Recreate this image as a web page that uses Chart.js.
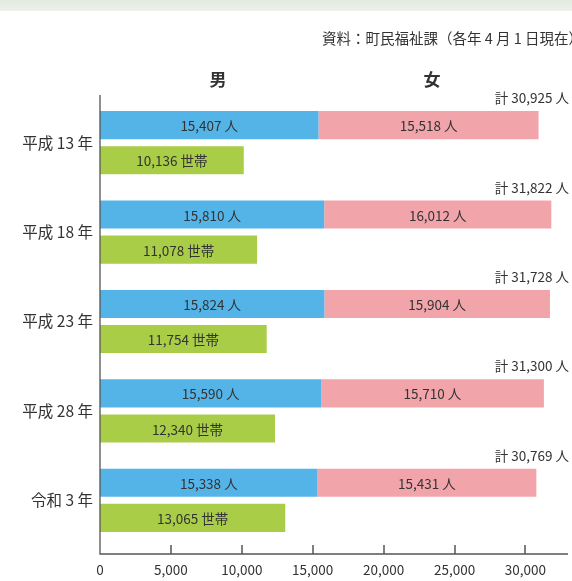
<!DOCTYPE html>
<html lang="ja">
<head>
<meta charset="utf-8">
<script src="https://cdn.jsdelivr.net/npm/chart.js@4.4.1/dist/chart.umd.min.js"></script>
<style>
  html, body { margin: 0; padding: 0; background: #fff; }
  body { width: 572px; height: 581px; overflow: hidden; position: relative; }
  .band { position: absolute; left: 0; top: 0; width: 572px; height: 11px; background: linear-gradient(#e3eae0, #edf1ea); }
  #wrap { position: absolute; left: 0; top: 0; width: 572px; height: 581px; }
</style>
</head>
<body>
<div class="band"></div>
<div id="wrap"><canvas id="c"></canvas></div>
<script>
  const years = ['平成 13 年', '平成 18 年', '平成 23 年', '平成 28 年', '令和 3 年'];
  const male = [15407, 15810, 15824, 15590, 15338];
  const female = [15518, 16012, 15904, 15710, 15431];
  const households = [10136, 11078, 11754, 12340, 13065];
  const totals = [30925, 31822, 31728, 31300, 30769];
  const xTicks = [0, 5000, 10000, 15000, 20000, 25000, 30000];
  const sourceNote = '資料：町民福祉課（各年 4 月 1 日現在）';

  const FONT = "'Noto Sans CJK JP', 'Noto Sans', sans-serif";
  const TEXT = '#333';
  const fmt = (v) => v.toLocaleString('en-US');

  // bar value texts, totals, hand-drawn axis lines and the captions
  const decorations = {
    id: 'decorations',
    afterDatasetsDraw(chart) {
      const ctx = chart.ctx;
      ctx.save();
      ctx.fillStyle = TEXT;
      ctx.textBaseline = 'middle';
      ctx.textAlign = 'center';
      ctx.font = `13.5px ${FONT}`;
      chart.data.datasets.forEach((ds, di) => {
        const meta = chart.getDatasetMeta(di);
        meta.data.forEach((bar, i) => {
          const cx = (bar.x + bar.base) / 2;
          ctx.fillText(fmt(ds.data[i]) + ' ' + ds.unit, cx, bar.y + 1);
        });
      });
      const fMeta = chart.getDatasetMeta(1);
      ctx.textAlign = 'right';
      ctx.font = `13.5px ${FONT}`;
      fMeta.data.forEach((bar, i) => {
        const top = bar.y - bar.height / 2;
        ctx.fillText('計 ' + fmt(totals[i]) + ' 人', chart.chartArea.right + 1, top - 13);
      });
      ctx.restore();
    },
    afterDraw(chart) {
      const { ctx, chartArea } = chart;
      const xs = chart.scales.x;
      const axisY = chartArea.bottom + 9;
      ctx.save();
      ctx.strokeStyle = '#555';
      ctx.lineWidth = 1.3;
      ctx.beginPath();
      ctx.moveTo(chartArea.left, 95);
      ctx.lineTo(chartArea.left, axisY);
      ctx.lineTo(chartArea.right, axisY);
      ctx.stroke();
      // small tick marks standing on the axis
      ctx.lineWidth = 1.5;
      ctx.beginPath();
      xTicks.slice(1).forEach((v) => {
        const px = Math.round(xs.getPixelForValue(v));
        ctx.moveTo(px, axisY - 9);
        ctx.lineTo(px, axisY);
      });
      ctx.stroke();

      ctx.fillStyle = TEXT;
      ctx.textBaseline = 'middle';
      ctx.textAlign = 'center';
      ctx.font = `bold 17px ${FONT}`;
      ctx.fillText('男', 218, 80);
      ctx.fillText('女', 432, 80);

      ctx.textAlign = 'left';
      ctx.font = `14.5px ${FONT}`;
      ctx.fillText(sourceNote, 322, 38);
      ctx.restore();
    },
  };

  new Chart(document.getElementById('c'), {
    type: 'bar',
    data: {
      labels: years,
      datasets: [
        { label: '男', data: male, unit: '人', stack: 'pop', backgroundColor: '#54b4e8' },
        { label: '女', data: female, unit: '人', stack: 'pop', backgroundColor: '#f1a5aa' },
        { label: '世帯', data: households, unit: '世帯', stack: 'hh', backgroundColor: '#aacd48' },
      ],
    },
    options: {
      indexAxis: 'y',
      responsive: true,
      maintainAspectRatio: false,
      animation: false,
      datasets: {
        bar: { categoryPercentage: 0.785, barPercentage: 0.8, borderWidth: 0 },
      },
      layout: { padding: { top: 98, right: 4, bottom: 3, left: 0 } },
      plugins: {
        legend: { display: false },
        tooltip: { enabled: false },
      },
      scales: {
        x: {
          stacked: true,
          min: 0,
          max: 33000,
          grid: { display: false, drawTicks: false },
          border: { display: false },
          afterBuildTicks: (scale) => { scale.ticks = xTicks.map((v) => ({ value: v })); },
          afterFit: (scale) => { scale.height = 33; },
          ticks: {
            padding: 17,
            color: TEXT,
            font: { size: 13.5, family: FONT },
            maxRotation: 0,
            callback: (v) => fmt(v),
          },
        },
        y: {
          grid: { display: false, drawTicks: false },
          border: { display: false },
          afterFit: (scale) => { scale.width = 100; },
          ticks: {
            padding: 7,
            color: TEXT,
            font: { size: 15.5, family: FONT },
          },
        },
      },
    },
    plugins: [decorations],
  });
</script>
</body>
</html>
